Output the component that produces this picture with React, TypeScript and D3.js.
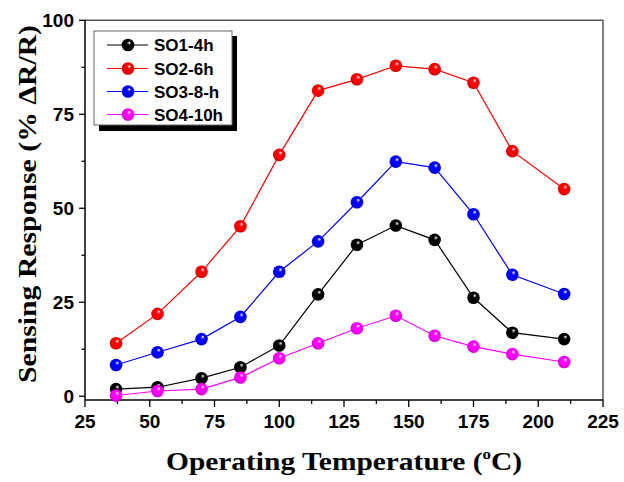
import React, { useEffect, useRef } from 'react';
import * as d3 from 'd3';

// operating temperatures (°C)
const temps = [37, 53, 70, 85, 100, 115, 130, 145, 160, 175, 190, 210];

const so1 = [1.9, 2.4, 4.8, 7.7, 13.5, 27.1, 40.3, 45.4, 41.6, 26.2, 16.9, 15.2];
const so2 = [14.1, 21.9, 33.1, 45.2, 64.2, 81.3, 84.3, 87.9, 87.0, 83.4, 65.2, 55.1];
const so3 = [8.3, 11.7, 15.2, 21.1, 33.1, 41.2, 51.6, 62.4, 60.8, 48.4, 32.3, 27.2];
const so4 = [0.2, 1.4, 1.9, 5.0, 10.1, 14.1, 18.1, 21.4, 16.1, 13.2, 11.2, 9.1];

const seriesNames = ['SO1-4h', 'SO2-6h', 'SO3-8-h', 'SO4-10h'];
const seriesColors = ['#000000', '#ff0000', '#0000ff', '#ff00ff'];
const seriesValues = [so1, so2, so3, so4];

const xTicks = [25, 50, 75, 100, 125, 150, 175, 200, 225];
const yTicks = [0, 25, 50, 75, 100];

const App: React.FC = () => {
  const svgRef = useRef<SVGSVGElement>(null);

  useEffect(() => {
    if (!svgRef.current) return;
    const svg = d3.select(svgRef.current);
    svg.selectAll('*').remove();

    const left = 85, right = 603, top = 20.3, bottom = 400;
    const x = d3.scaleLinear().domain([25, 225]).range([left, right]);
    const y = d3.scaleLinear().domain([-1, 100]).range([bottom, top]);

    const defs = svg.append('defs');
    seriesColors.forEach((c, i) => {
      const g = defs.append('radialGradient')
        .attr('id', `ball-${i}`)
        .attr('cx', '0.5').attr('cy', '0.5').attr('r', '0.55')
        .attr('fx', '0.62').attr('fy', '0.3');
      g.append('stop').attr('offset', '0%').attr('stop-color', '#ffffff');
      g.append('stop').attr('offset', '30%').attr('stop-color', d3.color(c)!.brighter(i === 0 ? 2.5 : 0.6).formatHex());
      g.append('stop').attr('offset', '65%').attr('stop-color', c);
      g.append('stop').attr('offset', '100%').attr('stop-color', d3.color(c)!.darker(0.8).formatHex());
    });

    // frame: top/right grey, left/bottom black
    svg.append('line').attr('x1', left).attr('x2', right).attr('y1', top).attr('y2', top)
      .attr('stroke', '#555').attr('stroke-width', 1.5);
    svg.append('line').attr('x1', right).attr('x2', right).attr('y1', top).attr('y2', bottom)
      .attr('stroke', '#555').attr('stroke-width', 1.5);

    // bottom axis
    const xAxis = svg.append('g');
    xAxis.append('line').attr('x1', left).attr('x2', right).attr('y1', bottom).attr('y2', bottom)
      .attr('stroke', '#000').attr('stroke-width', 1.5);
    const xMinor = d3.range(37.5, 225, 25);
    xAxis.selectAll('line.minor').data(xMinor).enter().append('line')
      .attr('x1', d => x(d)).attr('x2', d => x(d)).attr('y1', bottom).attr('y2', bottom + 4)
      .attr('stroke', '#000').attr('stroke-width', 1.3);
    xAxis.selectAll('line.major').data(xTicks).enter().append('line')
      .attr('x1', d => x(d)).attr('x2', d => x(d)).attr('y1', bottom).attr('y2', bottom + 7)
      .attr('stroke', '#000').attr('stroke-width', 1.3);
    xAxis.selectAll('text').data(xTicks).enter().append('text')
      .attr('x', d => x(d)).attr('y', 428)
      .attr('text-anchor', 'middle')
      .attr('font-family', 'Arial, Liberation Sans, sans-serif')
      .attr('font-weight', 'bold').attr('font-size', 19)
      .text(d => d);

    // left axis
    const yAxis = svg.append('g');
    yAxis.append('line').attr('x1', left).attr('x2', left).attr('y1', top).attr('y2', bottom)
      .attr('stroke', '#000').attr('stroke-width', 1.5);
    const yMinor = d3.range(12.5, 100, 25);
    yAxis.selectAll('line.minor').data(yMinor).enter().append('line')
      .attr('x1', left - 3.5).attr('x2', left).attr('y1', d => y(d)).attr('y2', d => y(d))
      .attr('stroke', '#000').attr('stroke-width', 1.3);
    yAxis.selectAll('line.major').data(yTicks).enter().append('line')
      .attr('x1', left - 6).attr('x2', left).attr('y1', d => y(d)).attr('y2', d => y(d))
      .attr('stroke', '#000').attr('stroke-width', 1.3);
    yAxis.selectAll('text').data(yTicks).enter().append('text')
      .attr('x', 74).attr('y', d => y(d) + 7)
      .attr('text-anchor', 'end')
      .attr('font-family', 'Arial, Liberation Sans, sans-serif')
      .attr('font-weight', 'bold').attr('font-size', 19)
      .text(d => d);

    // series
    const line = d3.line<number>()
      .x((_, i) => x(temps[i]))
      .y(d => y(d));
    seriesValues.forEach((vals, i) => {
      svg.append('path').datum(vals)
        .attr('d', line)
        .attr('fill', 'none')
        .attr('stroke', seriesColors[i])
        .attr('stroke-width', 1.2);
    });
    seriesValues.forEach((vals, i) => {
      svg.append('g').selectAll('circle').data(vals).enter().append('circle')
        .attr('cx', (_, j) => x(temps[j]))
        .attr('cy', d => y(d))
        .attr('r', 6.3)
        .attr('fill', `url(#ball-${i})`);
    });

    // legend
    const lg = svg.append('g');
    lg.append('rect').attr('x', 99).attr('y', 36).attr('width', 138).attr('height', 95).attr('fill', '#000');
    lg.append('rect').attr('x', 94).attr('y', 31).attr('width', 138).attr('height', 94)
      .attr('fill', '#fff').attr('stroke', '#666').attr('stroke-width', 1);
    const rowY = [45, 68.5, 91.5, 114.5];
    seriesNames.forEach((name, i) => {
      lg.append('line').attr('x1', 107).attr('x2', 148).attr('y1', rowY[i]).attr('y2', rowY[i])
        .attr('stroke', seriesColors[i]).attr('stroke-width', 1.2);
      lg.append('circle').attr('cx', 128).attr('cy', rowY[i]).attr('r', 6.3)
        .attr('fill', `url(#ball-${i})`);
      lg.append('text').attr('x', 154).attr('y', rowY[i] + 6)
        .attr('font-family', 'Arial, Liberation Sans, sans-serif')
        .attr('font-weight', 'bold').attr('font-size', 17)
        .text(name);
    });

    // axis titles
    svg.append('text')
      .attr('transform', `translate(36, 204) rotate(-90)`)
      .attr('text-anchor', 'middle')
      .attr('font-family', 'Times New Roman, Liberation Serif, serif')
      .attr('font-weight', 'bold').attr('font-size', 26)
      .attr('textLength', 358).attr('lengthAdjust', 'spacingAndGlyphs')
      .text('Sensing Response (% ΔR/R)');

    const xt = svg.append('text')
      .attr('x', (left + right) / 2).attr('y', 470)
      .attr('text-anchor', 'middle')
      .attr('font-family', 'Times New Roman, Liberation Serif, serif')
      .attr('font-weight', 'bold').attr('font-size', 26)
      .attr('textLength', 356).attr('lengthAdjust', 'spacingAndGlyphs');
    xt.append('tspan').text('Operating Temperature (');
    xt.append('tspan').attr('dy', -11).attr('font-size', 15).text('o');
    xt.append('tspan').attr('dy', 11).text('C)');
  }, []);

  return (
    <svg ref={svgRef} width={624} height={482}
      style={{ position: 'absolute', left: 0, top: 0, background: '#fff' }} />
  );
};

export default App;
